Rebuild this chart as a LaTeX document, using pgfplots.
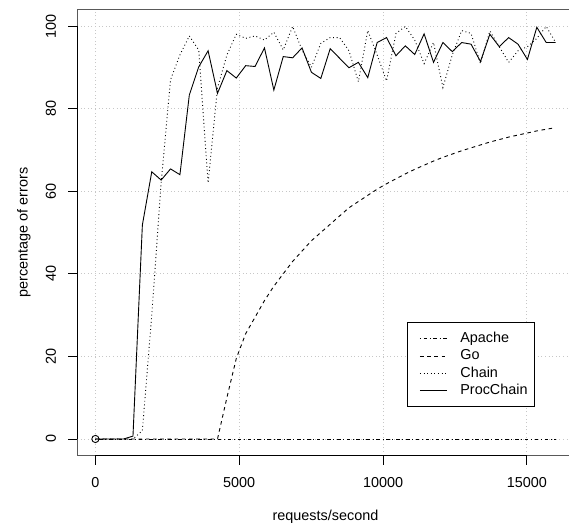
\documentclass[border=0pt]{standalone}
\usepackage{fontspec}
\setmainfont{Liberation Sans}
\usepackage{pgfplots}
\pgfplotsset{compat=1.18}

% requests/second vs percentage of errors
\pgfplotstableread{
x       apache go    chain proc
0       0      0     0     0
326.5   0      0     0     0
653.1   0      0     0     0
979.6   0      0     0     0
1306.1  0      0     0     0.7
1632.7  0      0     2     51.8
1959.2  0      0     30    64.7
2285.7  0      0     62    62.7
2612.2  0      0     87    65.4
2938.8  0      0     93    64.0
3265.3  0      0     97.6  83.3
3591.8  0      0     94.2  90.1
3918.4  0      0     62    94.0
4244.9  0      0     85    83.7
4571.4  0      10    93    89.2
4898.0  0      19.5  98    87.4
5224.5  0      25.5  97    90.4
5551.0  0      29.5  97.6  90.2
5877.6  0      33.5  96.6  94.7
6204.1  0      37    98.5  84.5
6530.6  0      40    94.2  92.6
6857.1  0      43    99.9  92.3
7183.7  0      45.5  94.2  94.7
7510.2  0      48    90    88.8
7836.7  0      50    95.8  87.3
8163.3  0      52    97.2  94.5
8489.8  0      54    97.2  92.2
8816.3  0      56    94    89.9
9142.9  0      57.5  86.5  91.2
9469.4  0      59    98.9  87.5
9795.9  0      60.5  93    96.0
10122.4 0      61.8  86.7  97.2
10449.0 0      63    98.2  92.8
10775.5 0      64.2  99.9  95.2
11102.0 0      65.3  96.6  93.1
11428.6 0      66.3  90.9  98.1
11755.1 0      67.3  96    91.2
12081.6 0      68.2  85.1  96.0
12408.2 0      69    93    93.8
12734.7 0      69.8  98.9  96.0
13061.2 0      70.5  98.2  95.6
13387.8 0      71.2  90.9  91.4
13714.3 0      71.9  98.8  98.0
14040.8 0      72.5  95    95.0
14367.3 0      73.1  91.2  97.2
14693.9 0      73.6  94    95.6
15020.4 0      74.1  95    91.9
15346.9 0      74.6  97    99.7
15673.5 0      75    99.9  96.0
16000   0      75.4  96    96.0
}\errtable

\begin{document}
\begin{tikzpicture}
\useasboundingbox (0,0) rectangle (569pt,525pt);
\begin{axis}[
  at={(77pt,69.5pt)}, anchor=south west,
  width=497pt, height=446pt, scale only axis,
  xmin=-640, xmax=16640, ymin=-4, ymax=104,
  scaled x ticks=false, scaled y ticks=false,
  xtick={0,5000,10000,15000},
  xticklabels={0,5000,10000,15000},
  ytick={0,20,40,60,80,100},
  yticklabels={0,20,40,60,80,100},
  xtick pos=bottom, ytick pos=left,
  tick align=outside, major tick length=9pt,
  tick style={black, line width=0.9pt},
  axis line style={black!65, line width=0.9pt},
  grid=major,
  major grid style={black!22, line width=0.8pt, dash pattern=on 0.9pt off 2.7pt},
  ticklabel style={font=\fontsize{14.4}{17}\selectfont, inner sep=0pt},
  xticklabel style={anchor=north},
  xticklabel shift=12.3pt,
  yticklabel style={rotate=90, anchor=south},
  yticklabel shift=11.8pt,
  label style={font=\fontsize{14.4}{17}\selectfont},
  xlabel={requests/second},
  xlabel style={at={(axis description cs:0.5,-0.1379)}, anchor=center},
  ylabel={percentage of errors},
  ylabel style={at={(axis description cs:-0.1066,0.5)}, anchor=center},
  legend image code/.code={\path (0pt,0pt); \draw[#1] (5pt,0pt) -- (32pt,0pt);},
  legend style={at={(0.6634,0.2993)}, anchor=north west,
    draw=black, line width=0.9pt, fill=white,
    font=\fontsize{14.4}{17}\selectfont,
    inner xsep=7.3pt, inner ysep=9.5pt, row sep=3.8pt, column sep=13pt,
    nodes={inner sep=0pt, text height=10.5pt, text depth=3pt}},
  legend cell align=left,
  clip=true,
]
\addplot[black, line width=0.9pt, dash pattern=on 0.9pt off 2.7pt on 3.6pt off 2.7pt] table[x=x, y=apache] {\errtable};
\addplot[black, line width=0.9pt, dash pattern=on 3.6pt off 3.6pt] table[x=x, y=go] {\errtable};
\addplot[black, line width=0.9pt, dash pattern=on 0.9pt off 2.7pt] table[x=x, y=chain] {\errtable};
\addplot[black, line width=0.9pt] table[x=x, y=proc] {\errtable};
\addplot[only marks, mark=o, mark size=3.6pt, line width=0.9pt, black, forget plot] coordinates {(0,0)};
\draw[black, line width=0.9pt] (axis cs:0,-4) -- (axis cs:15000,-4);
\draw[black, line width=0.9pt] (axis cs:-640,0) -- (axis cs:-640,100);
\legend{Apache,Go,Chain,ProcChain}
\end{axis}
\end{tikzpicture}
\end{document}
